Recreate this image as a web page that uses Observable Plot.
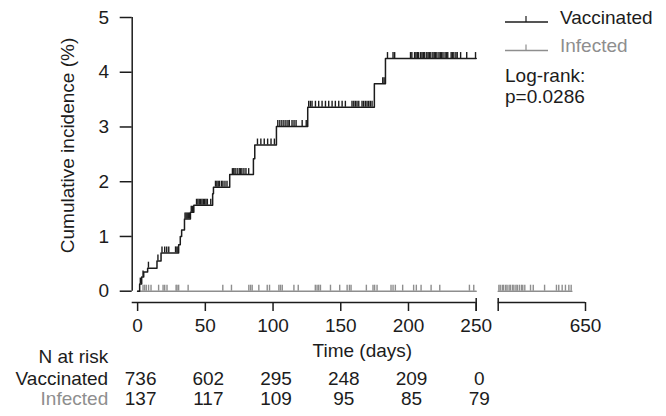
<!DOCTYPE html>
<html><head><meta charset="utf-8">
<script src="https://cdn.jsdelivr.net/npm/d3@7"></script>
<script src="https://cdn.jsdelivr.net/npm/@observablehq/plot@0.6"></script>
<style>
html,body{margin:0;padding:0;background:#fff;}
#wrap{position:relative;width:666px;height:416px;font-family:"Liberation Sans",Arial,sans-serif;}
#wrap svg{display:block;}
</style></head><body><div id="wrap"></div>
<script>
// ---- data ----
const vacStepDays   = [0, 1.5, 3, 4.5, 7.4, 14.3, 17.3, 30.3, 31.5, 32.5, 34.6, 39, 41.5, 55.4, 56, 68, 85.5, 86.5, 102.5, 125.6, 174.8, 183, 250];
const vacStepValues = [0, 0.13, 0.26, 0.35, 0.42, 0.55, 0.7, 0.85, 1.0, 1.12, 1.32, 1.44, 1.57, 1.78, 1.9, 2.13, 2.42, 2.67, 3.01, 3.36, 3.79, 4.25, 4.25];
const vacCensorDays = [2, 4, 8, 15, 18, 20, 21.5, 23, 28, 29, 29.8,
  35, 35.8, 36.6, 37.4, 38.2, 39.6, 40.4, 41,
  43.5, 44.5, 45.5, 46.5, 47.5, 48.5, 49.5, 50.5, 51.5, 54,
  57.5, 58.5, 59.5, 60.5, 62, 63, 64.5, 66,
  70, 71, 72, 73.5, 75, 76, 77, 78.5, 80, 82,
  88.5, 91, 93.5, 96, 98.5, 101,
  103.5, 105, 106.5, 108, 109.5, 111, 112, 114, 115.5, 117, 121.5, 124.5,
  126.3, 127.6, 128.8, 131.3, 133.7, 136.2, 138.7, 141.1, 143.6, 146, 148.5, 151, 153.4,
  158.3, 159.6, 160.8, 162, 163.3, 165.7, 166.9, 168.2, 169.4, 170.6, 171.8, 173.1,
  181, 182, 184.5, 188.6, 189.8,
  201.5, 202.5, 204.5, 205.5, 206.5, 207.5, 209, 210, 211, 212, 213.5, 214.5, 215.5, 216.5,
  218, 219, 220, 221, 222.5, 223.5, 224.5, 225.5, 227, 228, 229, 231.5, 232.5, 233.5, 235, 236, 238.5, 243, 249.5];
const infSegStart = [0, 586];
const infSegEnd   = [250, 640];
const infCensorDays = [4, 5.2, 6.4, 8.1, 9.9, 15.5, 18.8, 20, 21.7, 28.4, 29.1, 30.3, 37.3, 62.9, 69.3,
  82.1, 83.4, 84.6, 89.5, 95.7, 97.4, 104.3, 105.5, 106.8, 115.4, 118.6, 131.2, 132.5, 133.7, 135,
  142.4, 149.2, 154.7, 156.4, 157.6, 168.9, 173.8, 175, 176.8, 187.1, 188.6, 190.3, 195.7, 203.8,
  205.8, 209.3, 216.7, 223.1, 245, 248.2,
  586.5, 587.5, 589, 590, 591.5, 592.5, 594, 595, 596.5, 597.5, 599, 600, 601.5, 603, 604, 605.5,
  609.7, 611.7, 620, 628.7, 630.4, 632.9, 635.3, 637.8, 639.5];
const xTicks = [0, 50, 100, 150, 200, 250, 650];
const xBreaks = [250, 586];
const yTicks = [0, 1, 2, 3, 4, 5];
const riskTimes = [0, 50, 100, 150, 200, 250];
const vaccinatedAtRisk = [736, 602, 295, 248, 209, 0];
const infectedAtRisk = [137, 117, 109, 95, 85, 79];
const groups = ["Vaccinated", "Infected"];
const logRankText = ["Log-rank:", "p=0.0286"];

// ---- derived tables ----
const vacLine = vacStepDays.map((t, i) => ({t, v: vacStepValues[i]}));
const stepAt = t => { let v = 0; for (let i = 0; i < vacStepDays.length; i++) if (vacStepDays[i] <= t) v = vacStepValues[i]; return v; };
const vacCensor = vacCensorDays.map(t => ({t, v: stepAt(t)}));
const infLine = infSegStart.flatMap((s, i) => [{t: s, v: 0, seg: i}, {t: infSegEnd[i], v: 0, seg: i}]);
const xSegments = [{a: -4, b: 250}, {a: 586, b: 650}];
const riskRows = riskTimes.map((t, i) => ({t, vac: vaccinatedAtRisk[i], inf: infectedAtRisk[i]}));

const BLACK = "#1c1c1c", GRAY = "#8e8e8e";
const FS = 19;

const chart = Plot.plot({
  width: 666, height: 416,
  marginTop: 17, marginBottom: 114, marginLeft: 131.7, marginRight: 12,
  style: {fontFamily: '"Liberation Sans", Arial, sans-serif', fontSize: FS + "px", color: BLACK, background: "transparent", overflow: "visible"},
  x: {type: "linear", domain: [-4, 250, 586, 650], range: [131.7, 475.7, 497.7, 585]},
  y: {domain: [0, 5], range: [290.7, 17]},
  marks: [
    // axes
    Plot.ruleX([-4], {y1: 0, y2: 5, stroke: BLACK, strokeWidth: 1.5}),
    Plot.axisY({ticks: yTicks, tickSize: 12, tickPadding: 11, strokeWidth: 1.5, stroke: BLACK, fontSize: FS, label: null, tickFormat: d => String(d)}),
    Plot.ruleY(xSegments, {x1: "a", x2: "b", y: () => 0, dy: 11.3, stroke: BLACK, strokeWidth: 1.5}),
    Plot.axisX({ticks: xTicks, tickSize: 9, tickPadding: 7, strokeWidth: 1.5, stroke: BLACK, fontSize: FS, label: null, tickFormat: d => String(d)}),
    Plot.ruleX(xBreaks, {insetTop: 281, insetBottom: -9, stroke: BLACK, strokeWidth: 1.5}),
    // infected
    Plot.line(infLine, {x: "t", y: "v", z: "seg", stroke: GRAY, strokeWidth: 1.5}),
    Plot.ruleX(infCensorDays, {x: d => d, y1: () => 0, y2: () => 0, insetTop: -6, stroke: GRAY, strokeWidth: 1.4}),
    // vaccinated
    Plot.line(vacLine, {x: "t", y: "v", curve: "step-after", stroke: BLACK, strokeWidth: 1.5}),
    Plot.ruleX(vacCensor, {x: "t", y1: "v", y2: "v", insetTop: -6, stroke: BLACK, strokeWidth: 1.4}),
    // labels
    Plot.text(["Cumulative incidence (%)"], {frameAnchor: "left", textAnchor: "middle", lineAnchor: "middle", rotate: -90, dx: -64.7, dy: -14.5, fontSize: FS}),
    Plot.text(["Time (days)"], {frameAnchor: "bottom", textAnchor: "middle", lineAnchor: "middle", dx: -31, dy: 48, fontSize: FS}),
    Plot.text(["N at risk"], {frameAnchor: "bottom-left", lineAnchor: "middle", dx: -24, dy: 54, textAnchor: "end", fontSize: FS}),
    Plot.text([groups[0]], {frameAnchor: "bottom-left", lineAnchor: "middle", dx: -24, dy: 76, textAnchor: "end", fontSize: FS}),
    Plot.text([groups[1]], {frameAnchor: "bottom-left", lineAnchor: "middle", dx: -24, dy: 96, textAnchor: "end", fontSize: FS, fill: GRAY}),
    Plot.text(riskRows, {x: "t", text: "vac", frameAnchor: "bottom", lineAnchor: "middle", dx: 3, dy: 76, fontSize: FS}),
    Plot.text(riskRows, {x: "t", text: "inf", frameAnchor: "bottom", lineAnchor: "middle", dx: 3, dy: 96, fontSize: FS})
  ]
});
const wrap = document.getElementById("wrap");
wrap.appendChild(chart);

// legend overlay
const leg = d3.select(wrap).append("svg")
  .attr("width", 666).attr("height", 416)
  .style("position", "absolute").style("left", "0px").style("top", "0px")
  .attr("font-family", '"Liberation Sans", Arial, sans-serif').attr("font-size", FS);
const legColors = [BLACK, GRAY];
const legY = [22, 50.5];
groups.forEach((g, i) => {
  const gg = leg.append("g").attr("transform", `translate(505,${legY[i]})`);
  gg.append("line").attr("x1", 0).attr("x2", 43).attr("y1", 0).attr("y2", 0).attr("stroke", legColors[i]).attr("stroke-width", 1.5);
  gg.append("line").attr("x1", 21).attr("x2", 21).attr("y1", -6).attr("y2", 0).attr("stroke", legColors[i]).attr("stroke-width", 1.2);
  gg.append("text").attr("x", 55).attr("y", 1.5).attr("fill", i === 0 ? BLACK : GRAY).text(g);
});
logRankText.forEach((t, i) => {
  leg.append("text").attr("x", 505).attr("y", 82 + i * 21).attr("fill", BLACK).text(t);
});
</script>
</body></html>
